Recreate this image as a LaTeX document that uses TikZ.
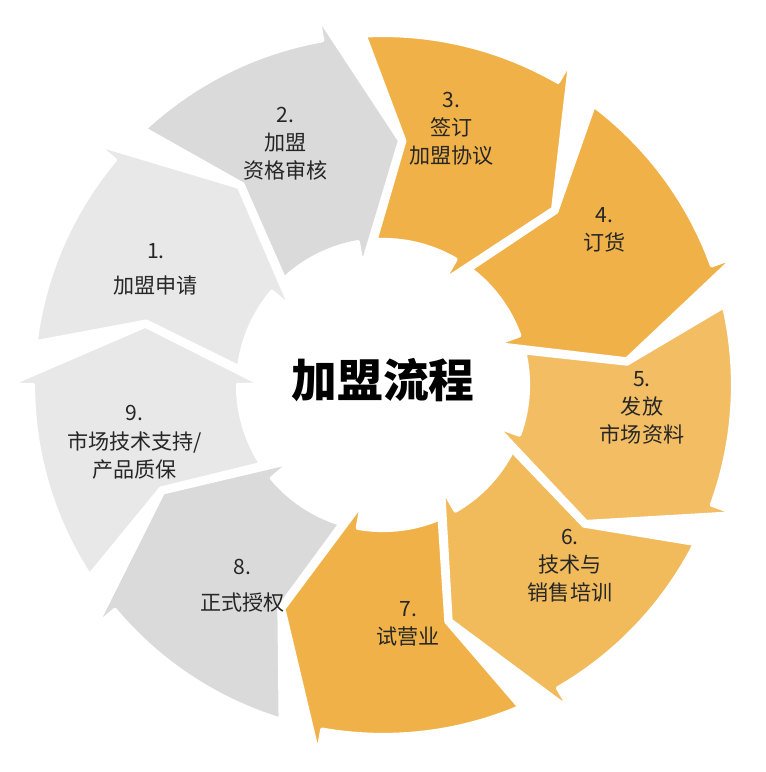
\documentclass[tikz,border=0pt]{standalone}
\usepackage{fontspec}
\setmainfont{Noto Sans CJK SC}
\definecolor{flowOrange}{RGB}{240,178,72}
\definecolor{flowGray}{RGB}{218,218,218}
\definecolor{flowLight}{RGB}{232,232,232}
\tikzset{
  segtext/.style={align=center,font=\fontsize{6}{8}\selectfont,text=black!85},
  segarrow/.style={draw=white,line width=1.2pt,line join=round}
}
\begin{document}
\begin{tikzpicture}
	\useasboundingbox (0,0) rectangle (7.65,7.72);
	\begin{scope}[shift={(3.83,3.87)}]
	%arrow segments
	\foreach \t/\col in {173/flowLight,133/flowGray,93/flowOrange,53/flowOrange,13/flowOrange!85,-27/flowOrange!90,-67/flowOrange,-107/flowGray,-147/flowLight}
	{\fill[\col,segarrow] (\t:3.5) arc[start angle=\t,end angle=\t-33,radius=3.5]
		-- ({\t-33}:3.75) -- ({\t-47}:2.45) -- ({\t-33}:1.2) -- ({\t-33}:1.45)
		arc[start angle=\t-33,end angle=\t,radius=1.45] -- ({\t-8}:2.45) -- cycle;}
	%labels
	\node[segtext] (seg1) at (153:2.55) {1.\\[2pt]加盟申请};
	\node[segtext] (seg2) at (112:2.6) {2.\\加盟\\资格审核};
	\node[segtext] (seg3) at (75:2.65) {3.\\签订\\加盟协议};
	\node[segtext] (seg4) at (35:2.7) {4.\\订货};
	\node[segtext] (seg5) at (-5:2.6) {5.\\发放\\市场资料};
	\node[segtext] (seg6) at (-44:2.6) {6.\\技术与\\销售培训};
	\node[segtext] (seg7) at (-84:2.4) {7.\\试营业};
	\node[segtext] (seg8) at (-125:2.45) {8.\\[2pt]正式授权};
	\node[segtext] (seg9) at (-167:2.55) {9.\\市场技术支持/\\产品质保};
	\node[font=\fontsize{13}{15}\selectfont\bfseries] (title) at (0,0.05) {加盟流程};
	\end{scope}
\end{tikzpicture}
\end{document}
